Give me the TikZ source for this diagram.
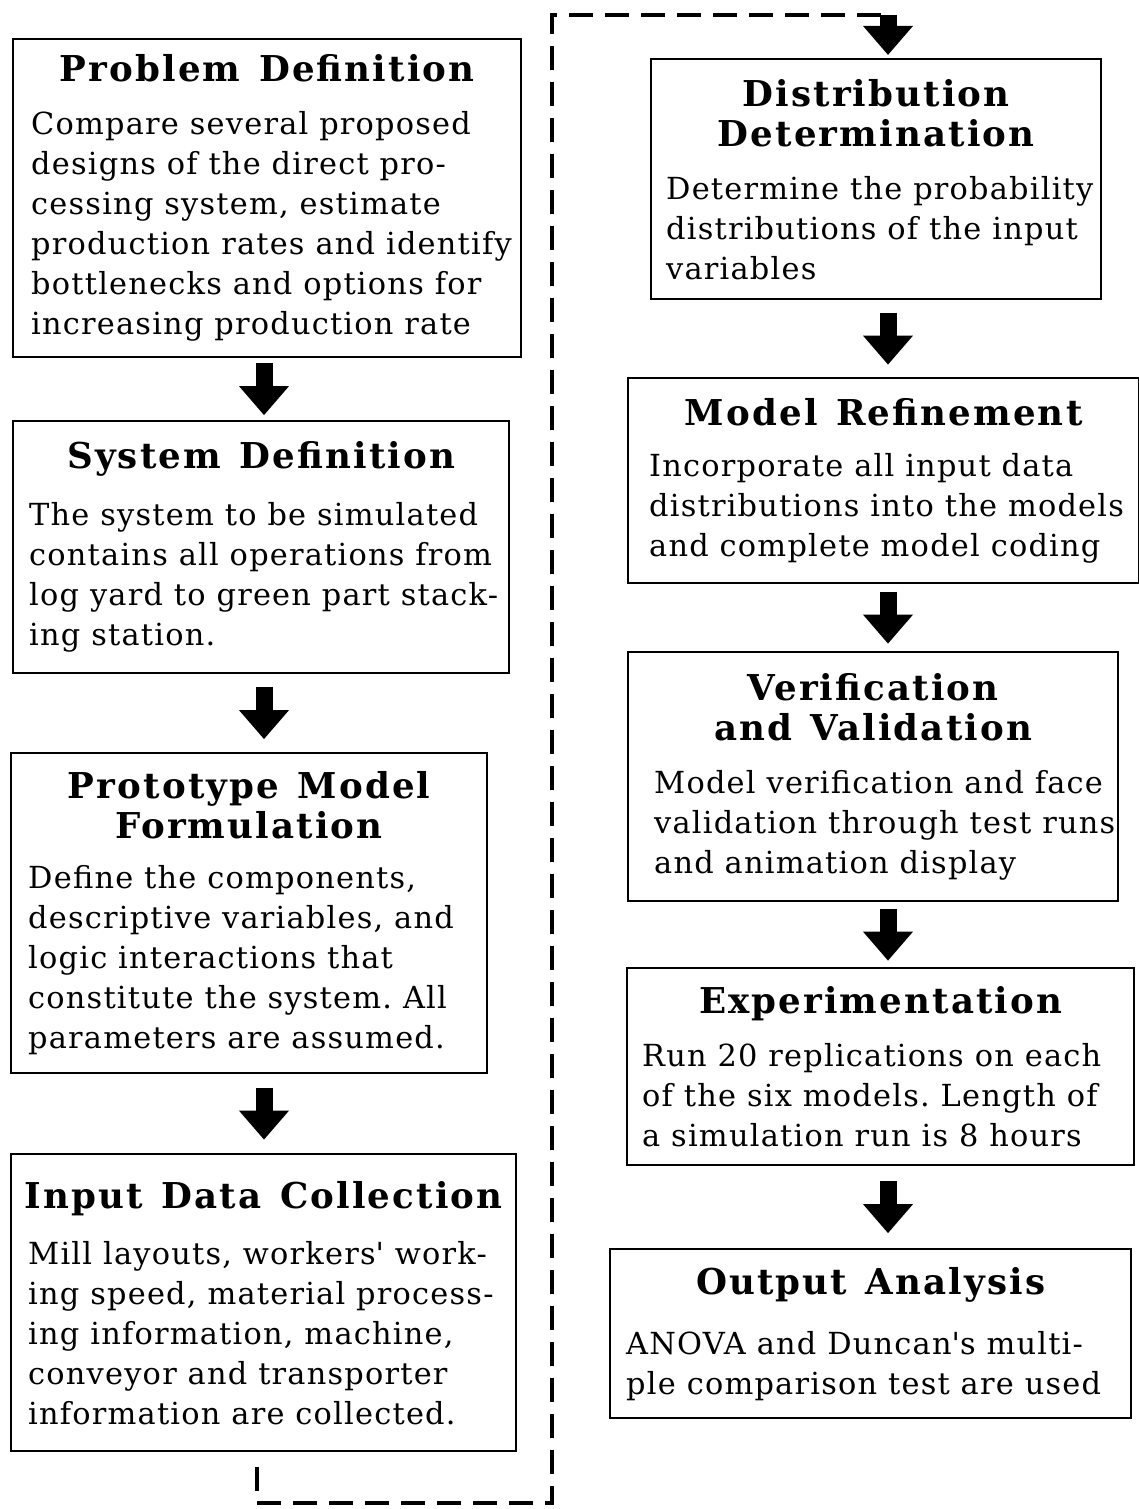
\documentclass[tikz,border=0pt]{standalone}
\usepackage{fontspec}
\usepackage{tikz}
\usetikzlibrary{arrows.meta,calc}

\newfontfamily\bodyfam{DejaVu Serif}[LetterSpace=4]
\newfontfamily\headfam{DejaVu Serif}[LetterSpace=6]
\newdimen\pxu \pxu=0.5pt
\newcommand{\bodyfont}{\bodyfam\fontsize{15.2}{20}\selectfont\spaceskip=0.36em\relax}
\newcommand{\headfont}{\headfam\bfseries\fontsize{17.8}{20}\selectfont\spaceskip=0.52em\relax}
% title, gap under title, left indent of the text, text
\newcommand{\stage}[4]{{\headfont\centering #1\par}\vspace{#2\pxu}%
  {\bodyfont\raggedright\leftskip=#3\pxu\relax #4\par}}
\newcommand{\flowstep}[3]{\draw[flow] ($(#1.south -| #3)!.5!(#2.north -| #3)$) ++(0,-26) -- ++(0,52);}
\frenchspacing

\begin{document}
\begin{tikzpicture}[x=0.5pt,y=-0.5pt,
    stagebox/.style 2 args={draw,line width=1.2pt,inner sep=0pt,anchor=north west,
      minimum width=#1\pxu,text width=#1\pxu,minimum height=#2\pxu},
    flow/.style={line width=8.5pt,-{Triangle[length=14.5pt,width=24pt]}},
    backline/.style={line width=2pt,dash pattern=on 12pt off 6pt}]
  \useasboundingbox (0,0) rectangle (1139,1509);

  \node[stagebox={508}{318}] (pd) at (12,38) {\stage{Problem Definition}{13}{18}{Compare several proposed\\designs of the direct pro-\\cessing system, estimate\\production rates and identify\\bottlenecks and options for\\increasing production rate}};
  \node[stagebox={496}{252}] (sd) at (12,420) {\stage{System Definition}{17}{16}{The system to be simulated\\contains all operations from\\log yard to green part stack-\\ing station.}};
  \node[stagebox={476}{320}] (pm) at (10,752) {\stage{Prototype Model\\Formulation}{10}{17}{Define the components,\\descriptive variables, and\\logic interactions that\\constitute the system. All\\parameters are assumed.}};
  \node[stagebox={505}{297}] (ic) at (10,1153) {\stage{Input Data Collection}{16}{17}{Mill layouts, workers\textquotesingle{} work-\\ing speed, material process-\\ing information, machine,\\conveyor and transporter\\information are collected.}};

  \node[stagebox={450}{240}] (dd) at (650,58) {\stage{Distribution\\Determination}{13}{15}{Determine the probability\\distributions of the input\\variables}};
  \node[stagebox={511}{205}] (mr) at (627,377) {\stage{Model Refinement}{11}{21}{Incorporate all input data\\distributions into the models\\and complete model coding}};
  \node[stagebox={490}{249}] (vv) at (627,651) {\stage{Verification\\and Validation}{13}{26}{Model verification and face\\validation through test runs\\and animation display}};
  \node[stagebox={507}{197}] (ex) at (626,967) {\stage{Experimentation}{13}{15}{Run 20 replications on each\\of the six models. Length of\\a simulation run is 8 hours}};
  \node[stagebox={521}{169}] (oa) at (609,1248) {\stage{Output Analysis}{20}{16}{ANOVA and Duncan\textquotesingle{}s multi-\\ple comparison test are used}};

  \coordinate (lcol) at (264,0);
  \coordinate (rcol) at (888,0);
  \coordinate (dcol) at (257,0);
  \coordinate (midx) at (552,0);
  \coordinate (bot) at (0,1503);
  \coordinate (top) at (0,15);

  \flowstep{pd}{sd}{lcol}
  \flowstep{sd}{pm}{lcol}
  \flowstep{pm}{ic}{lcol}
  \flowstep{dd}{mr}{rcol}
  \flowstep{mr}{vv}{rcol}
  \flowstep{vv}{ex}{rcol}
  \flowstep{ex}{oa}{rcol}

  \draw[backline,shorten <=15\pxu] (ic.south -| dcol) |- (midx |- bot) |- (rcol |- top);
  \draw[flow,shorten >=3\pxu] (rcol |- top) -- (dd.north -| rcol);
\end{tikzpicture}
\end{document}
